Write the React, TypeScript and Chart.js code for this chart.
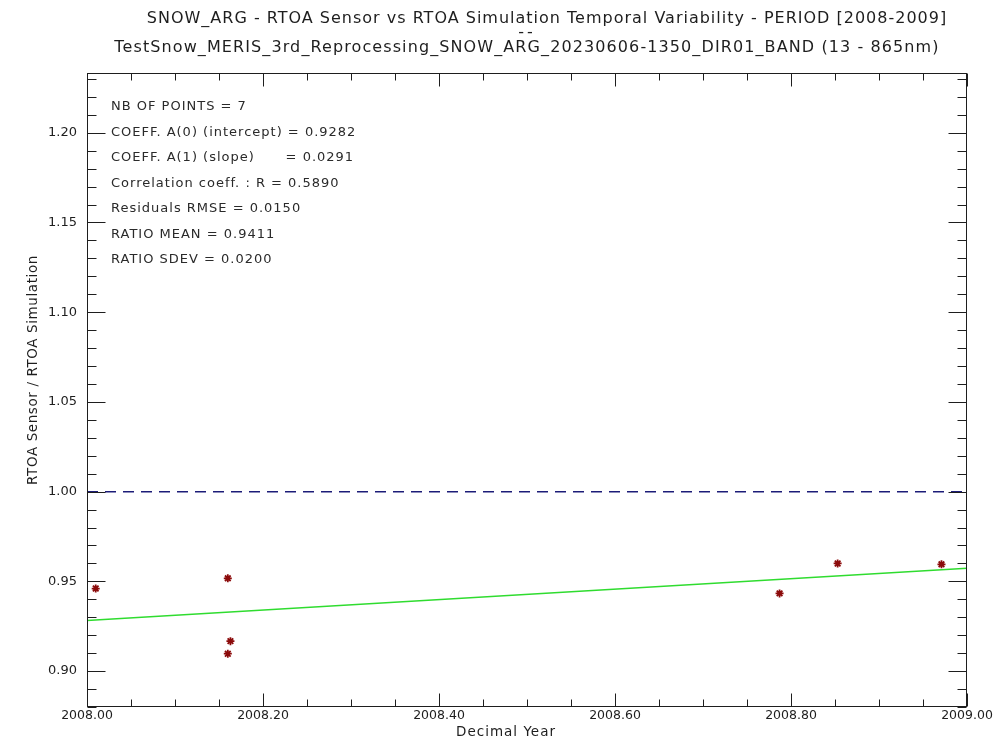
import { useEffect, useRef } from "react";
import { Chart, registerables } from "chart.js";

Chart.register(...registerables);

// Observations: decimal year of each acquisition and the sensor/simulation ratio
const DECIMAL_YEAR = [2008.0099, 2008.16, 2008.163, 2008.16, 2008.787, 2008.853, 2008.971];
const RTOA_RATIO = [0.946, 0.9517, 0.9167, 0.9097, 0.9433, 0.96, 0.9595];

// Linear fit of the ratio against (year - 2008)
const FIT_INTERCEPT = 0.9282;
const FIT_SLOPE = 0.0291;
const CORRELATION_R = 0.589;
const RESIDUALS_RMSE = 0.015;
const RATIO_MEAN = 0.9411;
const RATIO_SDEV = 0.02;

const REFERENCE_RATIO = 1.0;

const X_MIN = 2008.0;
const X_MAX = 2009.0;
const Y_MIN = 0.88;
const Y_MAX = 1.2333;

const X_TICKS = [2008.0, 2008.2, 2008.4, 2008.6, 2008.8, 2009.0];
const Y_TICKS = [0.9, 0.95, 1.0, 1.05, 1.1, 1.15, 1.2];

const TITLE_LINE_1 =
  "SNOW_ARG - RTOA Sensor vs RTOA Simulation Temporal Variability - PERIOD [2008-2009]";
const TITLE_SEPARATOR = "--";
const TITLE_LINE_2 =
  "TestSnow_MERIS_3rd_Reprocessing_SNOW_ARG_20230606-1350_DIR01_BAND (13 - 865nm)";
const X_TITLE = "Decimal Year";
const Y_TITLE = "RTOA Sensor / RTOA Simulation";

const STATS_LINES = [
  `NB OF POINTS = ${RTOA_RATIO.length}`,
  `COEFF. A(0) (intercept) = ${FIT_INTERCEPT.toFixed(4)}`,
  `COEFF. A(1) (slope)      = ${FIT_SLOPE.toFixed(4)}`,
  `Correlation coeff. : R = ${CORRELATION_R.toFixed(4)}`,
  `Residuals RMSE = ${RESIDUALS_RMSE.toFixed(4)}`,
  `RATIO MEAN = ${RATIO_MEAN.toFixed(4)}`,
  `RATIO SDEV = ${RATIO_SDEV.toFixed(4)}`,
];

const FONT = "'DejaVu Sans', sans-serif";
const INK = "#1e1e1e";

// Frame with inward ticks on all four sides, titles and the statistics block
const idlFramePlugin = {
  id: "idlFrame",
  afterDraw(chart: any) {
    const { ctx, chartArea: a, scales } = chart;
    const xs = scales.x;
    const ys = scales.y;
    ctx.save();
    ctx.strokeStyle = INK;
    ctx.lineWidth = 1;
    const L = Math.round(a.left) + 0.5;
    const R = Math.round(a.right) - 0.5;
    const T = Math.round(a.top) + 0.5;
    const B = Math.round(a.bottom) - 0.5;
    ctx.strokeRect(L, T, R - L, B - T);

    ctx.beginPath();
    for (let i = 0; i <= 20; i++) {
      const v = X_MIN + i * 0.05;
      const px = Math.round(xs.getPixelForValue(v)) + 0.5;
      const len = i % 4 === 0 ? 13 : 7;
      ctx.moveTo(px, B);
      ctx.lineTo(px, B - len);
      ctx.moveTo(px, T);
      ctx.lineTo(px, T + len);
    }
    for (let i = 0; ; i++) {
      const v = Y_MIN + i * 0.01;
      if (v > Y_MAX + 1e-9) break;
      const py = Math.round(ys.getPixelForValue(v)) + 0.5;
      const major = Math.abs(Math.round(v / 0.05) * 0.05 - v) < 1e-6;
      const len = major ? 18 : 9;
      ctx.moveTo(L, py);
      ctx.lineTo(L + len, py);
      ctx.moveTo(R, py);
      ctx.lineTo(R - len, py);
    }
    ctx.stroke();

    const cx = (a.left + a.right) / 2;
    ctx.fillStyle = INK;
    ctx.textBaseline = "middle";
    ctx.textAlign = "center";
    ctx.letterSpacing = "1px";
    ctx.font = `16px ${FONT}`;
    ctx.fillText(TITLE_LINE_1, cx + 20, 19);
    ctx.letterSpacing = "3px";
    ctx.fillText(TITLE_SEPARATOR, cx, 33);
    ctx.letterSpacing = "1.1px";
    ctx.fillText(TITLE_LINE_2, cx, 48);

    ctx.letterSpacing = "1px";
    ctx.font = `13.5px ${FONT}`;
    ctx.fillText(X_TITLE, cx - 21, a.bottom + 25);
    ctx.save();
    ctx.letterSpacing = "0.6px";
    ctx.translate(33, (a.top + a.bottom) / 2 - 20);
    ctx.rotate(-Math.PI / 2);
    ctx.fillText(Y_TITLE, 0, 0);
    ctx.restore();

    ctx.textAlign = "left";
    ctx.font = `13px ${FONT}`;
    ctx.letterSpacing = "1px";
    ctx.fillStyle = "#2a2a2a";
    STATS_LINES.forEach((line, i) => {
      ctx.fillText(line, a.left + 24, a.top + 34 + i * 25.5);
    });
    ctx.restore();
  },
};

export default function App() {
  const canvasRef = useRef<HTMLCanvasElement>(null);

  useEffect(() => {
    document.body.style.margin = "0";
    const canvas = canvasRef.current;
    if (!canvas) return;

    const points = DECIMAL_YEAR.map((x, i) => ({ x, y: RTOA_RATIO[i] }));
    const fitLine = [X_MIN, X_MAX].map((x) => ({
      x,
      y: FIT_INTERCEPT + FIT_SLOPE * (x - X_MIN),
    }));
    const refLine = [X_MIN, X_MAX].map((x) => ({ x, y: REFERENCE_RATIO }));

    const chart = new Chart(canvas, {
      type: "scatter",
      data: {
        datasets: [
          {
            label: "Ratio",
            data: points,
            pointStyle: "star",
            pointRadius: 4,
            pointBorderWidth: 1.8,
            borderColor: "#8b0a0a",
            backgroundColor: "#8b0a0a",
            showLine: false,
          },
          {
            label: "Linear fit",
            type: "line",
            data: fitLine,
            borderColor: "#2fdc2f",
            borderWidth: 1.5,
            pointRadius: 0,
            fill: false,
          },
          {
            label: "Reference",
            type: "line",
            data: refLine,
            borderColor: "#1c1c78",
            borderWidth: 1.5,
            borderDash: [11, 7],
            pointRadius: 0,
            fill: false,
          },
        ],
      },
      options: {
        responsive: false,
        devicePixelRatio: 1,
        animation: false,
        events: [],
        layout: { padding: { top: 73, right: 31, left: 0, bottom: 0 } },
        plugins: {
          legend: { display: false },
          tooltip: { enabled: false },
          title: { display: false },
        },
        scales: {
          x: {
            type: "linear",
            min: X_MIN,
            max: X_MAX,
            afterFit: (s: any) => {
              s.height = 41;
            },
            afterBuildTicks: (s: any) => {
              s.ticks = X_TICKS.map((value) => ({ value }));
            },
            border: { display: false },
            grid: { display: false, drawTicks: false },
            ticks: {
              padding: 1,
              color: INK,
              font: { family: FONT, size: 12.5 },
              maxRotation: 0,
              autoSkip: false,
              callback: (v: any) => Number(v).toFixed(2),
            },
          },
          y: {
            type: "linear",
            min: Y_MIN,
            max: Y_MAX,
            afterFit: (s: any) => {
              s.width = 87;
            },
            afterBuildTicks: (s: any) => {
              s.ticks = Y_TICKS.map((value) => ({ value }));
            },
            border: { display: false },
            grid: { display: false, drawTicks: false },
            ticks: {
              padding: 10,
              color: INK,
              font: { family: FONT, size: 13 },
              autoSkip: false,
              callback: (v: any) => Number(v).toFixed(2),
            },
          },
        },
      },
      plugins: [idlFramePlugin],
    });

    return () => chart.destroy();
  }, []);

  return (
    <div style={{ width: 998, height: 748, background: "#ffffff" }}>
      <canvas
        ref={canvasRef}
        width={998}
        height={748}
        style={{ display: "block", width: 998, height: 748 }}
      />
    </div>
  );
}
